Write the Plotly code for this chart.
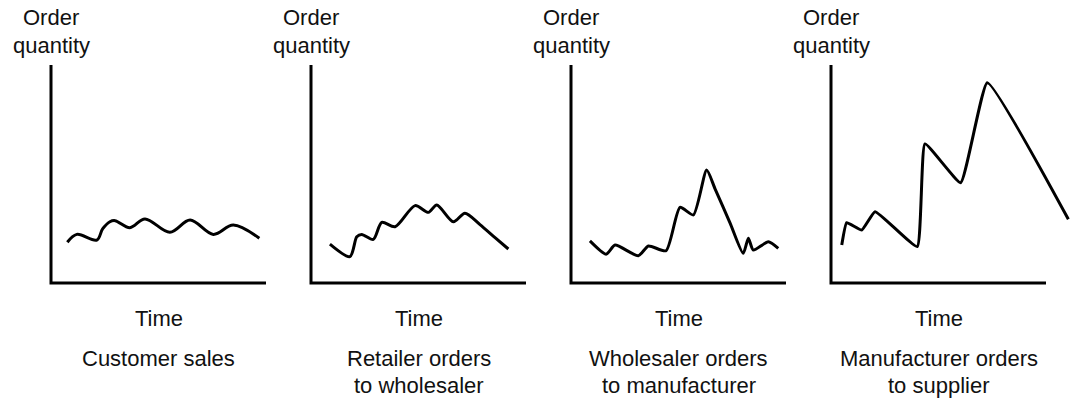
import plotly.graph_objects as go

W, H = 1076, 401

# ---- data (time 0-10 along each x axis, quantity 0-10 up each y axis) ----
time_customer = [0.76, 1.20, 2.13, 2.40, 2.74, 2.98, 3.67, 4.37, 5.53, 6.47, 7.55, 8.48, 9.69]
qty_customer = [1.87, 2.23, 1.97, 2.48, 2.81, 2.86, 2.54, 2.94, 2.33, 2.89, 2.23, 2.66, 2.05]

time_retailer = [0.88, 1.81, 2.13, 2.36, 2.90, 3.29, 3.91, 4.84, 5.46, 5.85, 6.62, 7.16, 7.86, 8.56, 9.18]
qty_retailer = [1.78, 1.21, 2.12, 2.23, 2.00, 2.78, 2.58, 3.55, 3.24, 3.58, 2.81, 3.20, 2.68, 2.08, 1.56]

time_wholesaler = [0.88, 1.63, 2.05, 3.13, 3.60, 4.42, 5.07, 5.69, 6.31, 6.70, 7.40, 8.01, 8.25, 8.48, 9.18, 9.64]
qty_wholesaler = [1.93, 1.32, 1.74, 1.25, 1.70, 1.48, 3.47, 3.12, 5.18, 4.32, 2.75, 1.36, 2.05, 1.51, 1.89, 1.59]

time_manufacturer = [0.50, 0.73, 1.43, 2.05, 4.01, 4.37, 6.03, 7.27, 11.04]
qty_manufacturer = [1.74, 2.77, 2.43, 3.27, 1.67, 6.38, 4.60, 9.19, 2.92]

y_title = ["Order", "quantity"]
x_title = "Time"
captions = [
    ["Customer sales"],
    ["Retailer orders", "to wholesaler"],
    ["Wholesaler orders", "to manufacturer"],
    ["Manufacturer orders", "to supplier"],
]

series = [
    (time_customer, qty_customer, 1.0),
    (time_retailer, qty_retailer, 0.8),
    (time_wholesaler, qty_wholesaler, 0.6),
    (time_manufacturer, qty_manufacturer, 0.35),
]

# ---- layout geometry (pixels) ----
axis_left = [51, 311, 571, 831]
axis_len = 215          # px for time 0..10
axis_top, axis_bottom = 65, 283
px_per_unit = axis_len / 10.0
FONT = "Liberation Sans, Arial, Helvetica, sans-serif"
FS = 22

fig = go.Figure()
shapes = []
annotations = []

def px(x):
    return x / W

def py(y):
    return 1 - y / H

for i, (t, q, sm) in enumerate(series):
    n = "" if i == 0 else str(i + 1)
    x0 = axis_left[i]
    x1 = x0 + axis_len if i < 3 else W
    fig.add_trace(go.Scatter(
        x=t, y=q, mode="lines",
        line=dict(color="#000000", width=3, shape="spline", smoothing=sm),
        xaxis="x" + n, yaxis="y" + n, showlegend=False, hoverinfo="skip",
    ))
    fig.layout["xaxis" + n] = dict(
        domain=[px(x0), px(x1)], range=[0, (x1 - x0) / px_per_unit],
        visible=False, fixedrange=True, anchor="y" + n,
    )
    fig.layout["yaxis" + n] = dict(
        domain=[py(axis_bottom), py(axis_top)], range=[0, 10],
        visible=False, fixedrange=True, anchor="x" + n,
    )
    # axis lines (L shape)
    shapes.append(dict(
        type="path", xref="paper", yref="paper",
        path=f"M {px(x0)},{py(axis_top)} L {px(x0)},{py(axis_bottom)} L {px(x0 + axis_len)},{py(axis_bottom)}",
        line=dict(color="#000000", width=3),
    ))
    cx = x0 + axis_len / 2
    annotations.append(dict(text=y_title[0], x=px(x0), y=py(18), xref="paper", yref="paper",
                            xanchor="center", yanchor="middle", showarrow=False,
                            font=dict(family=FONT, size=FS, color="#111111")))
    annotations.append(dict(text=y_title[1], x=px(x0), y=py(45), xref="paper", yref="paper",
                            xanchor="center", yanchor="middle", showarrow=False,
                            font=dict(family=FONT, size=FS, color="#111111")))
    annotations.append(dict(text=x_title, x=px(cx), y=py(318), xref="paper", yref="paper",
                            xanchor="center", yanchor="middle", showarrow=False,
                            font=dict(family=FONT, size=FS, color="#111111")))
    for j, line in enumerate(captions[i]):
        annotations.append(dict(text=line, x=px(cx), y=py(358 + 27 * j), xref="paper", yref="paper",
                                xanchor="center", yanchor="middle", showarrow=False,
                                font=dict(family=FONT, size=FS, color="#111111")))

fig.update_layout(
    width=W, height=H, margin=dict(l=0, r=0, t=0, b=0),
    paper_bgcolor="white", plot_bgcolor="white",
    shapes=shapes, annotations=annotations, showlegend=False,
)

fig.write_html(
    "out.html",
    config={"displayModeBar": False},
    post_script="document.body.style.margin='0';document.body.style.overflow='hidden';",
)
